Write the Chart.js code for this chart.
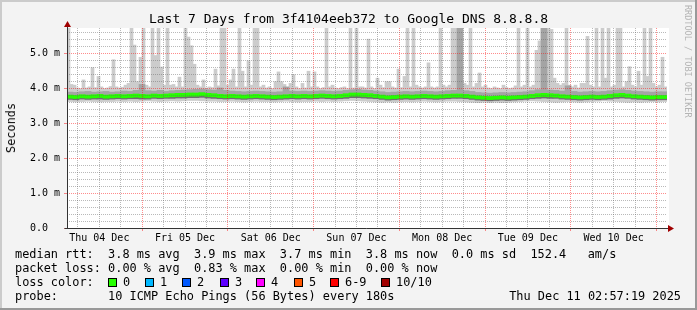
<!DOCTYPE html>
<html>
<head>
<meta charset="utf-8">
<title>Last 7 Days from 3f4104eeb372 to Google DNS 8.8.8.8</title>
<script src="https://cdn.jsdelivr.net/npm/chart.js@4.4.1/dist/chart.umd.min.js"></script>
<style>
  html, body { margin: 0; padding: 0; background: #f3f3f3; }
  #wrap { position: relative; width: 697px; height: 310px; overflow: hidden; }
  #chart { position: absolute; left: 0; top: 0; }
  .txt {
    position: absolute;
    font-family: 'DejaVu Sans Mono', monospace;
    font-size: 11.9px;
    line-height: 14px;
    color: #000;
    white-space: pre;
  }
  #title { left: 0; width: 697px; top: 11px; text-align: center; font-size: 13px; line-height: 16px; }
  #ylabel { left: 4px; top: 103px; writing-mode: vertical-rl; transform: rotate(180deg); }
  #stamp { left: 683px; top: 5px; font-size: 8.5px; line-height: 10px; color: #b4b4b4; writing-mode: vertical-rl; }
  .box { position: absolute; width: 7px; height: 7px; border: 1px solid #000; }
</style>
</head>
<body>
<div id="wrap">
  <canvas id="chart" width="697" height="310"></canvas>
  <div class="txt" id="title">Last 7 Days from 3f4104eeb372 to Google DNS 8.8.8.8</div>
  <div class="txt" id="ylabel">Seconds</div>
  <div class="txt" id="stamp">RRDTOOL / TOBI OETIKER</div>
  <div class="txt" style="left:15px;top:247px">median rtt:  3.8 ms avg  3.9 ms max  3.7 ms min  3.8 ms now  0.0 ms sd  152.4   am/s</div>
  <div class="txt" style="left:15px;top:261px">packet loss: 0.00 % avg  0.83 % max  0.00 % min  0.00 % now</div>
  <div class="txt" style="left:15px;top:275px">loss color:</div>
  <div id="losslegend"></div>
  <div class="txt" style="left:15px;top:289px">probe:       10 ICMP Echo Pings (56 Bytes) every 180s</div>
  <div class="txt" style="right:16px;top:289px">Thu Dec 11 02:57:19 2025</div>
</div>
<script>
    // time axis: hours since Thu 04 Dec 02:57:19
    const SPAN_HOURS = 168;
    const FIRST_GRID_HOUR = 3.0447;   // Thu 04 Dec 06:00
    const dayLabels = ['Thu 04 Dec', 'Fri 05 Dec', 'Sat 06 Dec', 'Sun 07 Dec', 'Mon 08 Dec', 'Tue 09 Dec', 'Wed 10 Dec'];

    // slowest ping per slot (ms), 200 slots
    const pingMax = [
        5.8, 4.12, 4.1, 4.02, 4.0, 4.25, 4.02, 4.05, 4.6, 4.03, 4.35, 4.05, 4.0, 4.02, 4.06, 4.83, 4.05, 4.02, 4.04, 4.1,
        4.15, 5.8, 5.25, 4.2, 4.9, 5.8, 4.1, 4.05, 5.8, 4.95, 5.8, 4.62, 4.1, 5.8, 4.1, 4.12, 4.05, 4.33, 4.05, 5.8,
        5.48, 5.23, 4.7, 4.1, 4.05, 4.25, 4.02, 4.05, 4.03, 4.56, 4.08, 5.8, 5.8, 4.1, 4.25, 4.56, 4.05, 5.8, 4.5, 4.05,
        4.8, 4.1, 5.8, 5.8, 4.05, 4.1, 4.02, 4.05, 4.0, 4.2, 4.48, 4.2, 4.12, 4.02, 4.15, 4.4, 4.05, 4.0, 4.15, 4.02,
        4.5, 4.05, 4.48, 4.05, 4.0, 4.03, 5.8, 4.05, 4.1, 4.02, 4.0, 4.03, 4.05, 4.0, 5.8, 4.02, 5.8, 4.05, 4.05, 4.02,
        5.42, 4.05, 4.0, 4.3, 4.1, 4.03, 4.2, 4.2, 4.05, 4.02, 4.56, 4.03, 4.35, 5.8, 4.05, 5.8, 4.1, 4.05, 4.02, 4.05,
        4.74, 4.05, 4.02, 4.05, 5.8, 4.1, 4.05, 4.1, 5.8, 5.8, 5.8, 4.1, 4.15, 4.1, 5.8, 4.05, 4.15, 4.45, 4.05, 4.1,
        4.02, 4.0, 4.05, 4.02, 4.0, 4.1, 4.03, 4.0, 4.02, 4.08, 5.8, 4.05, 4.1, 5.8, 4.05, 4.1, 5.1, 5.37, 5.8, 4.35,
        5.8, 5.7, 4.3, 4.15, 4.1, 4.15, 5.8, 4.1, 4.05, 4.1, 4.02, 4.15, 4.15, 5.5, 4.1, 4.05, 5.8, 4.05, 5.8, 4.3,
        5.8, 4.05, 4.1, 5.8, 5.8, 4.05, 4.2, 4.63, 4.1, 4.05, 4.5, 4.1, 5.8, 4.35, 5.8, 4.15, 4.05, 4.1, 4.9, 4.05
    ];

    // 100 slots from here on
    const pingHigh = [
        3.90, 3.89, 3.91, 3.92, 3.90, 3.91, 3.92, 3.90, 3.91, 3.93,
        3.92, 3.95, 4.12, 3.94, 3.93, 3.95, 3.92, 3.94, 3.95, 3.96,
        3.97, 3.98, 3.99, 3.97, 3.96, 4.02, 3.95, 3.93, 3.92, 3.91,
        3.92, 3.93, 3.92, 3.91, 3.90, 3.91, 4.05, 3.93, 3.92, 3.93,
        3.92, 3.93, 3.94, 3.93, 3.92, 3.93, 3.95, 3.97, 3.98, 3.96,
        3.95, 3.93, 3.91, 3.89, 3.90, 3.91, 3.92, 3.91, 3.92, 3.93,
        3.92, 3.91, 3.92, 3.94, 3.95, 5.80, 3.94, 3.92, 3.89, 3.88,
        3.87, 3.88, 3.89, 3.88, 3.89, 3.90, 3.91, 3.94, 3.97, 5.80,
        3.96, 3.95, 3.93, 4.08, 3.92, 3.90, 3.91, 3.92, 3.91, 3.92,
        3.94, 3.96, 3.97, 3.95, 3.93, 3.92, 3.91, 3.90, 3.91, 3.91
    ];
    const pingMedian = [
        3.77, 3.76, 3.78, 3.77, 3.78, 3.79, 3.77, 3.78, 3.79, 3.78,
        3.79, 3.80, 3.79, 3.78, 3.80, 3.79, 3.80, 3.81, 3.82, 3.82,
        3.83, 3.83, 3.84, 3.82, 3.81, 3.79, 3.78, 3.79, 3.78, 3.77,
        3.78, 3.79, 3.78, 3.77, 3.76, 3.77, 3.78, 3.79, 3.78, 3.79,
        3.78, 3.79, 3.80, 3.79, 3.78, 3.79, 3.81, 3.83, 3.83, 3.82,
        3.81, 3.79, 3.77, 3.75, 3.76, 3.77, 3.78, 3.77, 3.78, 3.79,
        3.78, 3.77, 3.78, 3.79, 3.80, 3.80, 3.79, 3.77, 3.75, 3.74,
        3.73, 3.74, 3.75, 3.74, 3.75, 3.76, 3.77, 3.79, 3.81, 3.82,
        3.81, 3.80, 3.78, 3.77, 3.76, 3.75, 3.76, 3.77, 3.76, 3.77,
        3.79, 3.81, 3.82, 3.80, 3.78, 3.77, 3.76, 3.75, 3.76, 3.76
    ];
    const pingLow = [
        3.69, 3.68, 3.70, 3.69, 3.70, 3.70, 3.69, 3.70, 3.71, 3.70,
        3.71, 3.71, 3.70, 3.70, 3.72, 3.71, 3.72, 3.72, 3.73, 3.73,
        3.74, 3.74, 3.75, 3.73, 3.72, 3.71, 3.70, 3.71, 3.70, 3.69,
        3.70, 3.71, 3.70, 3.69, 3.68, 3.69, 3.70, 3.71, 3.70, 3.71,
        3.70, 3.71, 3.72, 3.71, 3.70, 3.71, 3.72, 3.74, 3.74, 3.73,
        3.72, 3.71, 3.69, 3.67, 3.68, 3.69, 3.70, 3.69, 3.70, 3.71,
        3.70, 3.69, 3.70, 3.71, 3.72, 3.72, 3.71, 3.69, 3.67, 3.66,
        3.65, 3.66, 3.67, 3.66, 3.67, 3.68, 3.69, 3.71, 3.72, 3.73,
        3.72, 3.72, 3.70, 3.69, 3.68, 3.67, 3.68, 3.69, 3.68, 3.69,
        3.70, 3.72, 3.73, 3.72, 3.70, 3.69, 3.68, 3.67, 3.68, 3.68
    ];
    const pingMin = [
        3.63, 3.62, 3.63, 3.64, 3.63, 3.62, 3.63, 3.63, 3.64, 3.63,
        3.64, 3.63, 3.64, 3.65, 3.64, 3.63, 3.64, 3.65, 3.64, 3.65,
        3.66, 3.66, 3.65, 3.64, 3.64, 3.63, 3.63, 3.64, 3.63, 3.62,
        3.63, 3.64, 3.63, 3.63, 3.62, 3.63, 3.64, 3.63, 3.62, 3.63,
        3.63, 3.64, 3.63, 3.64, 3.63, 3.64, 3.65, 3.66, 3.65, 3.64,
        3.63, 3.62, 3.61, 3.62, 3.61, 3.62, 3.63, 3.62, 3.63, 3.64,
        3.63, 3.62, 3.63, 3.64, 3.64, 3.63, 3.62, 3.61, 3.60, 3.61,
        3.60, 3.61, 3.60, 3.61, 3.62, 3.63, 3.64, 3.65, 3.64, 3.63,
        3.62, 3.61, 3.62, 3.63, 3.62, 3.61, 3.62, 3.63, 3.64, 3.65,
        3.64, 3.63, 3.62, 3.61, 3.62, 3.61, 3.62, 3.63, 3.62, 3.63
    ];

    const lossLabels = ['0', '1', '2', '3', '4', '5', '6-9', '10/10'];
    const lossColors = ['#26ff00', '#00b8ff', '#0059ff', '#5e00ff', '#ff00ff', '#ff5500', '#ff0000', '#a10000'];
    const lossBoxX = [108, 145, 182, 220, 256, 294, 330, 381];

    const MGRID = 'rgba(255, 0, 0, 0.45)';
    const GRID = 'rgba(100, 100, 100, 0.45)';
    const AXIS = '#333333';
    const ARROW = '#a00000';
    const LINE_HALF = 0.045;

    const legendBox = document.getElementById('losslegend');
    lossLabels.forEach((label, i) => {
        const box = document.createElement('div');
        box.className = 'box';
        box.style.left = lossBoxX[i] + 'px';
        box.style.top = '278px';
        box.style.background = lossColors[i];
        legendBox.appendChild(box);
        const txt = document.createElement('div');
        txt.className = 'txt';
        txt.style.left = (lossBoxX[i] + 15) + 'px';
        txt.style.top = '275px';
        txt.textContent = label;
        legendBox.appendChild(txt);
    });

    const fineStep = SPAN_HOURS / pingMax.length;
    const coarseStep = SPAN_HOURS / pingMedian.length;
    const ratio = pingMax.length / pingMedian.length;

    const lightSmoke = pingMax.map((hi, i) => ({x: (i + 0.5) * fineStep, y: [pingMin[Math.floor(i / ratio)], hi]}));
    const midSmoke = pingHigh.map((hi, k) => ({x: (k + 0.5) * coarseStep, y: [pingMedian[k], hi]}));
    const darkSmoke = pingLow.map((lo, k) => ({x: (k + 0.5) * coarseStep, y: [lo, pingMedian[k]]}));
    const medianLine = pingMedian.map((m, k) => ({x: (k + 0.5) * coarseStep, y: [m - LINE_HALF, m + LINE_HALF]}));

    const gridHours = [];
    for (let t = FIRST_GRID_HOUR; t < SPAN_HOURS; t += 6) gridHours.push(t);
    const yTicks = [];
    for (let n = 0; n * 0.2 < 5.7; n++) yTicks.push(n / 5);

    function isMajorY(v) {
        return Math.abs(v - Math.round(v)) < 1e-6;
    }
    function isMidnight(i) {
        return i % 4 === 3;
    }

    function bars(data, color, axis, order) {
        return {
            data: data,
            xAxisID: axis,
            backgroundColor: color,
            borderWidth: 0,
            grouped: false,
            barPercentage: 1,
            categoryPercentage: 1,
            order: order,
            clip: 0
        };
    }

    const framePlugin = {
        id: 'frame',
        beforeDraw(chart) {
            const {ctx, width, height, chartArea: a} = chart;
            ctx.save();
            ctx.fillStyle = '#f3f3f3';
            ctx.fillRect(0, 0, width, height);
            ctx.fillStyle = '#cbcbcb';
            ctx.fillRect(0, 0, width, 2);
            ctx.fillRect(0, 0, 2, height);
            ctx.fillStyle = '#999999';
            ctx.fillRect(0, height - 2, width, 2);
            ctx.fillRect(width - 2, 0, 2, height);
            ctx.fillStyle = '#ffffff';
            ctx.fillRect(a.left, a.top, a.right - a.left + 2, a.bottom - a.top);
            ctx.restore();
        },
        afterDraw(chart) {
            const {ctx, chartArea: a} = chart;
            const x0 = Math.round(a.left) + 0.5;
            const y0 = Math.round(a.bottom) + 0.5;
            ctx.save();
            ctx.strokeStyle = AXIS;
            ctx.lineWidth = 1;
            ctx.beginPath();
            ctx.moveTo(x0, y0);
            ctx.lineTo(x0, a.top - 2);
            ctx.moveTo(x0 - 3, y0);
            ctx.lineTo(a.right + 2, y0);
            ctx.stroke();
            ctx.fillStyle = ARROW;
            ctx.beginPath();
            ctx.moveTo(x0, a.top - 7);
            ctx.lineTo(x0 - 3.5, a.top - 1);
            ctx.lineTo(x0 + 3.5, a.top - 1);
            ctx.closePath();
            ctx.fill();
            ctx.beginPath();
            ctx.moveTo(a.right + 7, y0);
            ctx.lineTo(a.right + 1, y0 - 3.5);
            ctx.lineTo(a.right + 1, y0 + 3.5);
            ctx.closePath();
            ctx.fill();
            ctx.restore();
        }
    };

    Chart.defaults.font.family = "'DejaVu Sans Mono', monospace";
    Chart.defaults.color = '#000';

    new Chart(document.getElementById('chart'), {
        type: 'bar',
        data: {
            datasets: [
                bars(medianLine, '#26ff00', 'xb', 1),
                bars(darkSmoke, '#6e6e6e', 'xb', 2),
                bars(midSmoke, '#a4a4a4', 'xb', 3),
                bars(lightSmoke, '#cccccc', 'x', 4)
            ]
        },
        options: {
            responsive: false,
            animation: false,
            devicePixelRatio: 1,
            layout: {padding: {top: 28, right: 30, bottom: 0, left: 0}},
            plugins: {
                legend: {display: false},
                title: {display: false},
                tooltip: {enabled: false}
            },
            scales: {
                x: {
                    type: 'linear',
                    min: 0,
                    max: SPAN_HOURS,
                    offset: false,
                    afterFit: s => { s.height = 82; },
                    afterBuildTicks: s => { s.ticks = gridHours.map(v => ({value: v})); },
                    ticks: {
                        autoSkip: false,
                        maxRotation: 0,
                        minRotation: 0,
                        padding: 1,
                        font: {size: 10},
                        callback: (v, i) => (i % 4 === 1 ? dayLabels[(i - 1) / 4] : '')
                    },
                    grid: {
                        z: 1,
                        offset: false,
                        color: c => (isMidnight(c.index) ? MGRID : GRID),
                        tickColor: c => (isMidnight(c.index) ? MGRID : 'rgba(0,0,0,0)'),
                        tickLength: 3
                    },
                    border: {display: false, dash: [1, 1]}
                },
                xb: {
                    type: 'linear',
                    min: 0,
                    max: SPAN_HOURS,
                    offset: false,
                    display: false
                },
                y: {
                    type: 'linear',
                    min: 0,
                    max: 5.74,
                    afterFit: s => { s.width = 67; },
                    afterBuildTicks: s => { s.ticks = yTicks.map(v => ({value: v})); },
                    ticks: {
                        autoSkip: false,
                        padding: 4,
                        font: {size: 10},
                        callback: v => {
                            if (!isMajorY(v)) return '';
                            const n = Math.round(v);
                            return n === 0 ? '0.0  ' : n.toFixed(1) + ' m';
                        }
                    },
                    grid: {
                        z: 1,
                        color: c => (isMajorY(c.tick.value) ? MGRID : GRID),
                        tickColor: c => (isMajorY(c.tick.value) ? MGRID : 'rgba(0,0,0,0)'),
                        tickLength: 3
                    },
                    border: {display: false, dash: [1, 1]}
                }
            }
        },
        plugins: [framePlugin]
    });
</script>
</body>
</html>
